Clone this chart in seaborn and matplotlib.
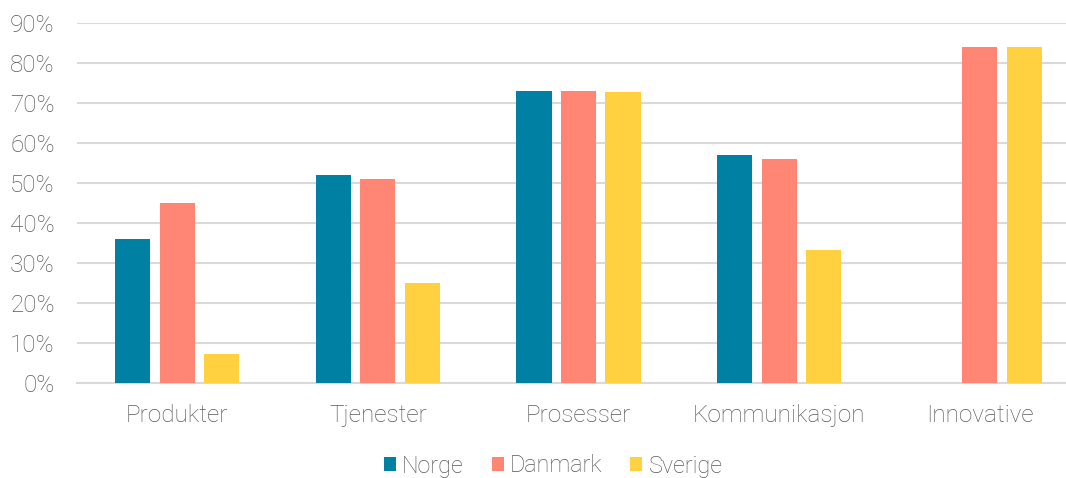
import numpy as np
import pandas as pd
import matplotlib
matplotlib.use("Agg")
import matplotlib.pyplot as plt
import seaborn as sns
from matplotlib.ticker import FuncFormatter, MultipleLocator

categories = ["Produkter", "Tjenester", "Prosesser", "Kommunikasjon", "Innovative"]
series = ["Norge", "Danmark", "Sverige"]
norge = [36, 52, 73, 57, np.nan]
danmark = [45, 51, 73, 56, 84]
sverige = [7.3, 25, 72.8, 33.2, 84]
colors = ["#0080A3", "#FF8674", "#FFD040"]

rows = []
for s, vals in zip(series, [norge, danmark, sverige]):
    for c, v in zip(categories, vals):
        rows.append({"Kategori": c, "Land": s, "Verdi": v})
df = pd.DataFrame(rows)

sns.set_theme(style="white")
plt.rcParams["font.family"] = ["Roboto", "DejaVu Sans"]

fig = plt.figure(figsize=(10.66, 4.78), dpi=100)
ax = fig.add_axes([77 / 1066, 95 / 478, 1003 / 1066, 360 / 478])

sns.barplot(data=df, x="Kategori", y="Verdi", hue="Land", order=categories,
            hue_order=series, palette=colors, width=0.666, gap=0.21,
            saturation=1, errorbar=None, ax=ax, zorder=3, linewidth=0)

ax.set_ylim(0, 90)
ax.yaxis.set_major_locator(MultipleLocator(10))
ax.yaxis.set_major_formatter(FuncFormatter(lambda v, p: f"{int(round(v))}%"))
ax.grid(axis="y", color="#d9d9d9", linewidth=1.5, zorder=0)
ax.set_axisbelow(True)
for sp in ["top", "right", "left"]:
    ax.spines[sp].set_visible(False)
ax.spines["bottom"].set_color("#d9d9d9")
ax.spines["bottom"].set_linewidth(1.5)
ax.set_xlabel("")
ax.set_ylabel("")
ax.tick_params(axis="both", length=0, labelsize=17.5, labelcolor="#595959")
ax.tick_params(axis="x", pad=15)
ax.tick_params(axis="y", pad=16)
for lab in ax.get_xticklabels() + ax.get_yticklabels():
    lab.set_fontweight("light")

handles, labels = ax.get_legend_handles_labels()
ax.legend_.remove()
leg = fig.legend(handles, labels, loc="center", bbox_to_anchor=(553 / 1066, 12 / 478),
                 ncol=3, frameon=False, handlelength=0.52, handleheight=0.52,
                 handletextpad=0.26, columnspacing=1.2, fontsize=16.8)
for t in leg.get_texts():
    t.set_color("#595959")
    t.set_fontweight("light")

fig.savefig("out.png", dpi=100)
